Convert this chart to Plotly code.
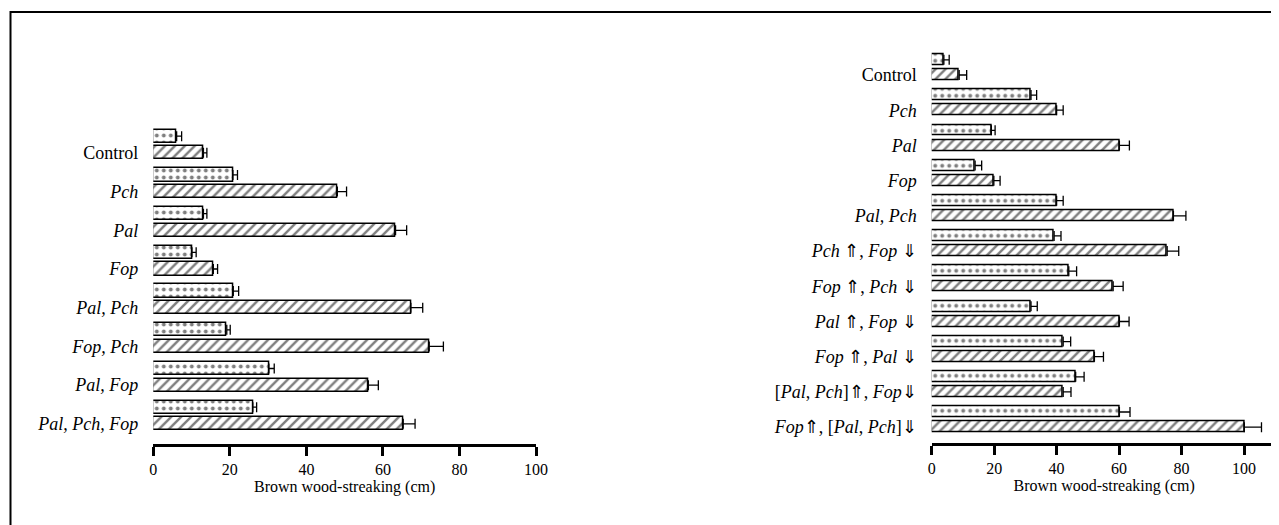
import plotly.graph_objects as go

# page offset: the browser page keeps an 8px body margin
OFF = 8
W, H = 1279 - OFF, 525 - OFF

# ---------------- data ----------------
left_labels = ["Control", "<i>Pch</i>", "<i>Pal</i>", "<i>Fop</i>", "<i>Pal, Pch</i>",
               "<i>Fop, Pch</i>", "<i>Pal, Fop</i>", "<i>Pal, Pch, Fop</i>"]
left_dotted = [6.1, 20.8, 13.1, 10.1, 20.9, 19.2, 30.2, 26.0]
left_dotted_err = [1.3, 1.2, 0.9, 1.1, 1.4, 0.9, 1.4, 1.0]
left_hatched = [13.1, 48.1, 63.3, 15.7, 67.3, 72.1, 56.2, 65.3]
left_hatched_err = [0.9, 2.4, 2.9, 1.1, 3.1, 3.7, 2.6, 3.1]

right_labels = ["Control", "<i>Pch</i>", "<i>Pal</i>", "<i>Fop</i>", "<i>Pal, Pch</i>",
                "<i>Pch</i> ⇑, <i>Fop</i> ⇓", "<i>Fop</i> ⇑, <i>Pch</i> ⇓",
                "<i>Pal</i> ⇑, <i>Fop</i> ⇓", "<i>Fop</i> ⇑, <i>Pal</i> ⇓",
                "[<i>Pal</i>, <i>Pch</i>]⇑, <i>Fop</i>⇓", "<i>Fop</i>⇑, [<i>Pal</i>, <i>Pch</i>]⇓"]
right_dotted = [3.9, 31.8, 19.1, 13.9, 40.0, 39.2, 43.9, 31.8, 42.1, 46.1, 60.1]
right_dotted_err = [1.7, 1.8, 1.2, 2.1, 2.1, 2.2, 2.5, 2.0, 2.4, 2.7, 3.4]
right_hatched = [8.8, 40.0, 60.1, 19.9, 77.4, 75.4, 58.1, 60.1, 52.1, 42.1, 100.1]
right_hatched_err = [2.4, 2.1, 3.2, 2.0, 4.0, 3.7, 3.2, 3.1, 2.9, 2.5, 5.5]

x_ticks = [0, 20, 40, 60, 80, 100]
x_title = "Brown wood-streaking (cm)"

# ---------------- layout helpers ----------------
SERIF = "Times New Roman"
DOT_OFFSET = 0.43


def px_x(p):
    return (p - OFF) / W


def px_y(p):
    return 1 - (p - OFF) / H


def add_panel(fig, labels, dotted, dotted_err, hatched, hatched_err, xa, ya, bw):
    n = len(labels)
    pos_h = list(range(n))
    pos_d = [i - DOT_OFFSET for i in pos_h]
    common = dict(orientation="h", width=bw, xaxis=xa, yaxis=ya, showlegend=False)
    fig.add_trace(go.Bar(
        x=dotted, y=pos_d,
        marker=dict(color="white", line=dict(color="black", width=1.5),
                    pattern=dict(shape=".", fgcolor="black", bgcolor="white",
                                 size=7, solidity=0.25)),
        error_x=dict(type="data", symmetric=False, array=dotted_err,
                     arrayminus=[0] * n, color="black", thickness=1.3, width=5),
        **common))
    fig.add_trace(go.Bar(
        x=hatched, y=pos_h,
        marker=dict(color="white", line=dict(color="black", width=1.5),
                    pattern=dict(shape="/", fgcolor="black", bgcolor="white",
                                 size=7, solidity=0.35)),
        error_x=dict(type="data", symmetric=False, array=hatched_err,
                     arrayminus=[0] * n, color="black", thickness=1.3, width=5),
        **common))


fig = go.Figure()
add_panel(fig, left_labels, left_dotted, left_dotted_err, left_hatched, left_hatched_err,
          "x", "y", 0.34)
add_panel(fig, right_labels, right_dotted, right_dotted_err, right_hatched, right_hatched_err,
          "x2", "y2", 0.31)

xcommon = dict(tickvals=x_ticks, ticktext=[str(t) for t in x_ticks],
               showline=True, linecolor="black", linewidth=2.5,
               ticks="outside", ticklen=9, tickwidth=2.5, tickcolor="black",
               showgrid=False, zeroline=False, automargin=False,
               tickfont=dict(family=SERIF, size=16, color="black"),
               title=dict(text=x_title, font=dict(family=SERIF, size=16, color="black"),
                          standoff=3))
ycommon = dict(showline=False, showgrid=False, zeroline=False, ticks="",
               automargin=False, ticklabelstandoff=14,
               tickfont=dict(family=SERIF, size=18, color="black"))

fig.update_layout(
    width=W, height=H,
    margin=dict(l=0, r=0, t=0, b=0),
    paper_bgcolor="white", plot_bgcolor="rgba(0,0,0,0)",
    font=dict(family=SERIF, color="black"),
    bargap=0,
    xaxis=dict(domain=[px_x(153.3), px_x(536.0)], range=[0, 100], anchor="y", **xcommon),
    yaxis=dict(domain=[px_y(444), px_y(118)], range=[7.52, -0.9], anchor="x",
               tickvals=list(range(len(left_labels))), ticktext=left_labels, **ycommon),
    xaxis2=dict(domain=[px_x(931.7), min(1.0, px_x(931.7 + 3.123 * 110.5))],
                range=[0, 110.5], anchor="y2", **xcommon),
    yaxis2=dict(domain=[px_y(443), px_y(43.3)], range=[10.45, -0.9], anchor="x2",
                tickvals=list(range(len(right_labels))), ticktext=right_labels, **ycommon),
    shapes=[dict(type="rect", xref="paper", yref="paper",
                 x0=px_x(10.5), x1=1.05, y0=-0.05, y1=px_y(12),
                 line=dict(color="black", width=2), fillcolor="rgba(0,0,0,0)")],
)

fig.write_html("out.html")
